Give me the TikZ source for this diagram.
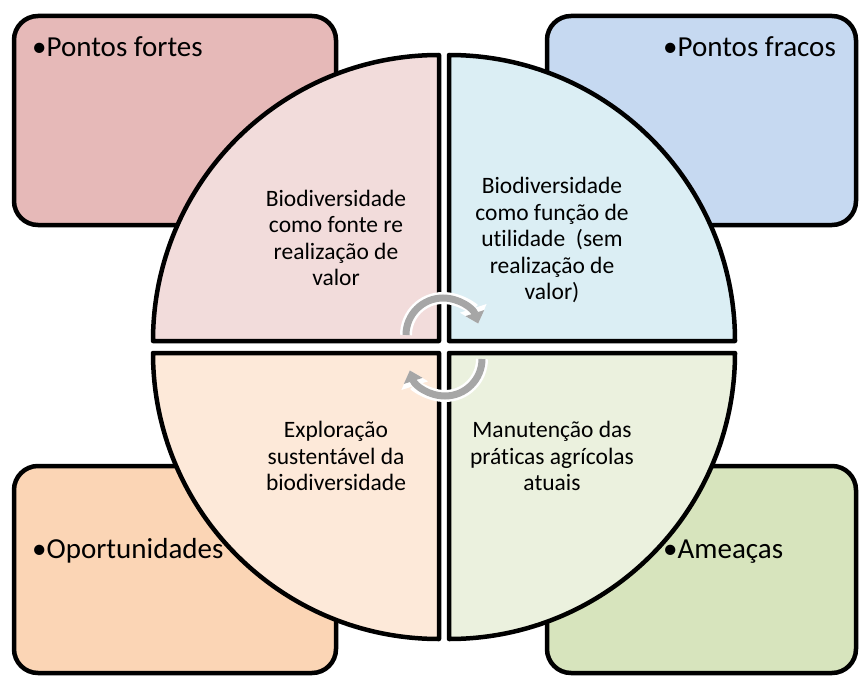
\documentclass[tikz,border=0pt]{standalone}
\usepackage{fontspec}
\setmainfont{Carlito}[Ligatures=NoCommon]
\usetikzlibrary{arrows.meta}
\definecolor{fortes}{HTML}{E6B9B8}
\definecolor{fracos}{HTML}{C6D9F1}
\definecolor{oport}{HTML}{FBD5B5}
\definecolor{ameacas}{HTML}{D7E4BD}
\definecolor{qfortes}{HTML}{F2DCDB}
\definecolor{qfracos}{HTML}{DBEEF4}
\definecolor{qoport}{HTML}{FDE9D9}
\definecolor{qameacas}{HTML}{EBF1DE}
\definecolor{ciclo}{HTML}{A6A6A6}
\begin{document}
\begin{tikzpicture}[x=1pt, y=1pt,
    box/.style={line width=4.5pt, rounded corners=24pt},
    quad/.style={line width=4.5pt, line join=round},
    outer/.style={inner sep=0pt, anchor=base west, font=\fontsize{29}{34}\selectfont},
    inner/.style={inner sep=0pt, align=center, font=\fontsize{23.5}{26.5}\selectfont},
    halo/.style={white, line width=12pt, -{Triangle[length=16pt, width=27pt]}},
    seta/.style={ciclo, line width=7pt, -{Triangle[length=11pt, width=19pt]}}]
    \useasboundingbox (0,0) rectangle (862,-677);

    \filldraw[box, fill=fortes] (14,-16) rectangle (336,-225);
    \filldraw[box, fill=fracos] (547,-16) rectangle (856,-225);
    \filldraw[box, fill=oport] (14,-466) rectangle (336,-673);
    \filldraw[box, fill=ameacas] (547,-466) rectangle (856,-673);

    \filldraw[quad, fill=qfortes] (439,-341) -- ++(-286,0) arc[start angle=180, end angle=90, radius=286] -- cycle;
    \filldraw[quad, fill=qfracos] (449,-341) -- ++(0,286) arc[start angle=90, end angle=0, radius=286] -- cycle;
    \filldraw[quad, fill=qoport] (439,-353) -- ++(-286,0) arc[start angle=180, end angle=270, radius=286] -- cycle;
    \filldraw[quad, fill=qameacas] (449,-353) -- ++(286,0) arc[start angle=0, end angle=-90, radius=286] -- cycle;

    % setas do ciclo
    \draw[halo] (406,-335) arc[start angle=180, end angle=18, radius=37];
    \draw[seta] (406,-335) arc[start angle=180, end angle=18, radius=37];
    \draw[halo] (482,-359) arc[start angle=0, end angle=-162, radius=37];
    \draw[seta] (482,-359) arc[start angle=0, end angle=-162, radius=37];

    \node[inner] (valor) at (336,-238) {Biodiversidade\\como fonte re\\realização de\\valor};
    \node[inner] (utilidade) at (552,-240) {Biodiversidade\\como função de\\utilidade~~(sem\\realização de\\valor)};
    \node[inner] (exploracao) at (336,-456) {Exploração\\sustentável da\\biodiversidade};
    \node[inner] (manutencao) at (552,-456) {Manutenção das\\práticas agrícolas\\atuais};

    \node[outer] (pf) at (32,-57) {•Pontos fortes};
    \node[outer] (pfr) at (663,-57) {•Pontos fracos};
    \node[outer] (op) at (32,-558) {•Oportunidades};
    \node[outer] (am) at (663,-558) {•Ameaças};
\end{tikzpicture}
\end{document}
